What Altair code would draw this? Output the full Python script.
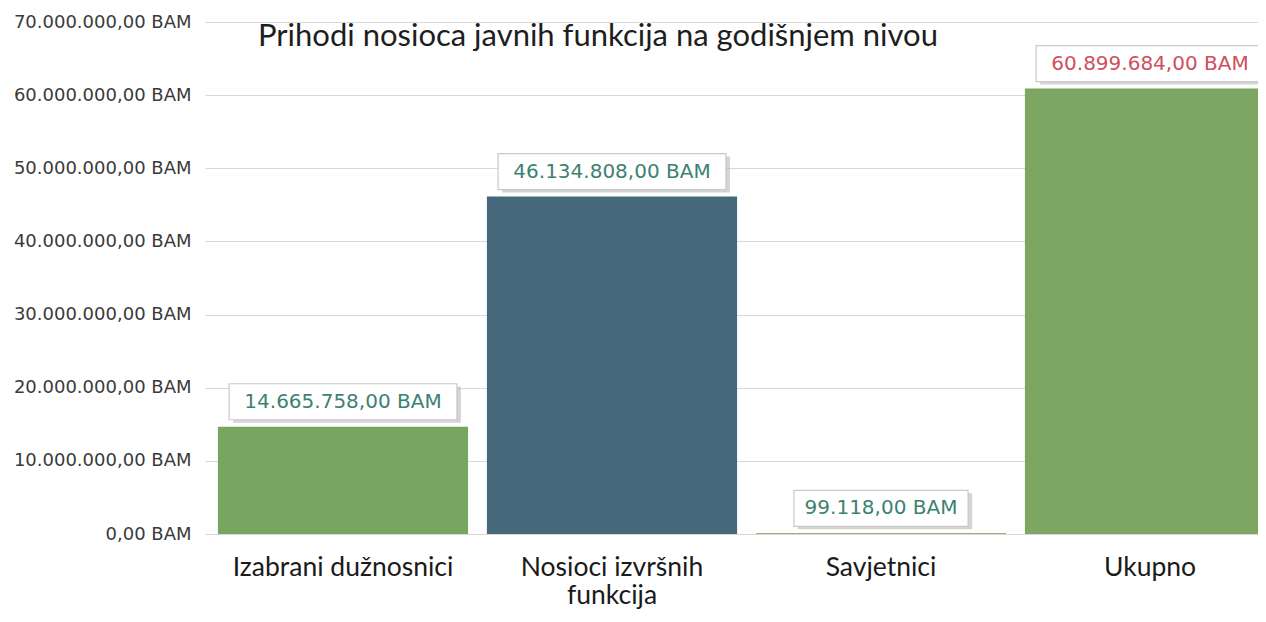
import altair as alt
import pandas as pd

categories = ["Izabrani dužnosnici", "Nosioci izvršnih funkcija", "Savjetnici", "Ukupno"]
values = [14665758.00, 46134808.00, 99118.00, 60899684.00]
labels = ["14.665.758,00 BAM", "46.134.808,00 BAM", "99.118,00 BAM", "60.899.684,00 BAM"]
y_ticks = [0, 10000000, 20000000, 30000000, 40000000, 50000000, 60000000, 70000000]
title_text = ["Prihodi nosioca javnih funkcija na godišnjem nivou"]

bar_colors = ["#77a660", "#45697b", "#6f9a5a", "#7ea663"]
label_colors = ["#3d8270", "#3d8270", "#3d8270", "#cf4f5a"]

df = pd.DataFrame({"cat": categories, "val": values, "label": labels})
df["boxw"] = df["label"].str.len() * 13.4

xscale = alt.Scale(domain=categories, range=[0, 1083], paddingInner=0.07, paddingOuter=0.048)
yscale = alt.Scale(domain=[0, 70000000])

x = alt.X("cat:N", scale=xscale, sort=categories, title=None,
          axis=alt.Axis(labelAngle=0, ticks=False, domain=False, labelPadding=20,
                        labelFont="Lato", labelFontSize=26.5, labelColor="#1a1a1a",
                        labelLineHeight=28, labelBaseline="top", labelLimit=500,
                        labelExpr="datum.label == 'Nosioci izvršnih funkcija' ? ['Nosioci izvršnih', 'funkcija'] : datum.label"))
y = alt.Y("val:Q", scale=yscale, title=None,
          axis=alt.Axis(values=y_ticks, format=",.2f", labelExpr="datum.label + ' BAM'",
                        ticks=False, domain=False, labelPadding=14, labelLimit=400,
                        labelFont="DejaVu Sans", labelFontSize=18, labelColor="#3a3a3a",
                        gridColor="#d9d9d9", gridWidth=1.2))

color = alt.Color("cat:N", scale=alt.Scale(domain=categories, range=bar_colors), legend=None)
tcolor = alt.Color("cat:N", scale=alt.Scale(domain=categories, range=label_colors), legend=None)

base = alt.Chart(df)

bars = base.mark_bar().encode(x=x, y=y, color=color)

shadow = base.mark_bar(color="#b0b0b0", opacity=0.55, yOffset=-4, y2Offset=-40, xOffset=4).encode(
    x=x, y="val:Q", y2="val:Q", size=alt.Size("boxw:Q", scale=None, legend=None))
box = base.mark_bar(color="white", stroke="#c9c9c9", strokeWidth=1.2, yOffset=-7, y2Offset=-43).encode(
    x=x, y="val:Q", y2="val:Q", size=alt.Size("boxw:Q", scale=None, legend=None))
text = base.mark_text(dy=-25, baseline="middle", align="center", font="DejaVu Sans", fontSize=20).encode(
    x=x, y="val:Q", text="label:N", color=tcolor)

title = alt.Chart(pd.DataFrame({"t": title_text})).mark_text(
    align="left", baseline="alphabetic", font="Lato", fontSize=31, color="#1e1e1e"
).encode(x=alt.value(53), y=alt.value(24), text="t:N")

chart = alt.layer(bars, shadow, box, text, title).resolve_scale(color="independent").properties(
    width=1053, height=512,
    autosize=alt.AutoSizeParams(type="none"),
    padding={"left": 197, "top": 14, "right": 0, "bottom": 80},
).configure(
    locale={"number": {"decimal": ",", "thousands": ".", "grouping": [3], "currency": ["", ""]}}
).configure_view(stroke=None)

chart.save("out.html", embed_options={"renderer": "svg", "actions": False})
